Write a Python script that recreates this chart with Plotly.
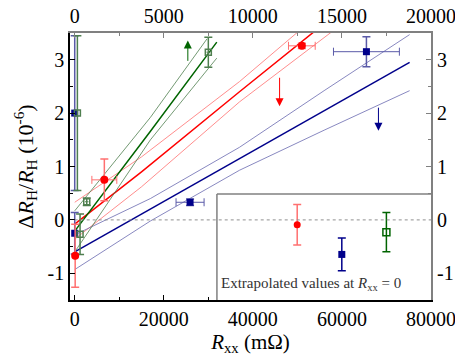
import plotly.graph_objects as go

# measured points (x in mOhm, y in 1e-6)
red_x = [100, 6650, 51000]
red_y = [-0.67, 0.75, 3.26]
red_ex = [0, 2800, 3000]
red_ey = [0.59, 0.39, 0.05]

blue_x = [0, 0, 25900, 65500]
blue_y = [2.0, -0.25, 0.33, 3.15]
blue_ex = [0, 0, 3150, 7400]
blue_ey = [1.45, 0.39, 0.06, 0.28]

green_x = [600, 1200, 2700, 30000]
green_y = [2.0, -0.27, 0.34, 3.14]
green_ex = [0, 0, 400, 400]
green_ey = [1.45, 0.38, 0.07, 0.28]

# fitted lines with confidence bands
red_fit_x = [0, 15000, 37000, 58000]
red_fit_y = [-0.08, 0.90, 2.40, 3.81]
red_up_y = [0.33, 1.18, 2.59, 4.08]
red_lo_y = [-0.36, 0.62, 2.21, 3.54]

blue_fit_x = [0, 17000, 37000, 56000, 75200]
blue_fit_y = [-0.60, 0.20, 1.15, 2.05, 2.95]
blue_up_y = [-0.28, 0.40, 1.36, 2.42, 3.47]
blue_lo_y = [-0.93, -0.02, 0.93, 1.68, 2.42]

green_fit_x = [0, 17000, 31900]
green_fit_y = [-0.21, 1.66, 3.33]
green_up_x = [0, 17000, 29700]
green_up_y = [0.17, 1.92, 3.39]
green_lo_x = [0, 17000, 31900]
green_lo_y = [-0.60, 1.50, 3.03]

# extrapolated intercepts (inset)
ins_x = [1, 2, 3]
ins_y = [-0.08, -0.64, -0.22]
ins_ey = [0.38, 0.31, 0.37]

bottom_ticks = [0, 20000, 40000, 60000, 80000]
top_ticks = [0, 5000, 10000, 15000, 20000]
yvals = [-1, 0, 1, 2, 3]

RED = '#ff0000'
RED_L = '#ff7070'
BLUE = '#00008b'
BLUE_L = '#6a6ab0'
GREEN = '#006400'
GREEN_L = '#4f7f4f'
FONT = 'Liberation Serif, Times New Roman, Times, serif'

fig = go.Figure()

def line(x, y, color, w):
    fig.add_trace(go.Scatter(x=x, y=y, mode='lines', line=dict(color=color, width=w),
                             showlegend=False, hoverinfo='skip'))

line(red_fit_x, red_up_y, RED_L, 0.8)
line(red_fit_x, red_lo_y, RED_L, 0.8)
line(red_fit_x, red_fit_y, RED, 1.5)
line(blue_fit_x, blue_up_y, BLUE_L, 0.8)
line(blue_fit_x, blue_lo_y, BLUE_L, 0.8)
line(blue_fit_x, blue_fit_y, BLUE, 1.5)
line(green_up_x, green_up_y, GREEN_L, 0.8)
line(green_lo_x, green_lo_y, GREEN_L, 0.8)
line(green_fit_x, green_fit_y, GREEN, 1.5)

fig.add_trace(go.Scatter(
    x=blue_x, y=blue_y, mode='markers',
    marker=dict(symbol='square', size=7, color=BLUE, line=dict(width=0)),
    error_y=dict(type='data', array=blue_ey, color='#5a5aa8', thickness=1.5, width=4),
    error_x=dict(type='data', array=blue_ex, color='#5a5aa8', thickness=1, width=4),
    showlegend=False))
fig.add_trace(go.Scatter(
    x=green_x, y=green_y, mode='markers',
    marker=dict(symbol='square-open', size=6, color=GREEN_L, line=dict(width=1.5)),
    error_y=dict(type='data', array=green_ey, color=GREEN_L, thickness=1.5, width=4),
    error_x=dict(type='data', array=green_ex, color=GREEN_L, thickness=1, width=0),
    showlegend=False))
fig.add_trace(go.Scatter(
    x=red_x, y=red_y, mode='markers',
    marker=dict(symbol='circle', size=8, color=RED, line=dict(width=0)),
    error_y=dict(type='data', array=red_ey, color=RED_L, thickness=1.5, width=4),
    error_x=dict(type='data', array=red_ex, color=RED_L, thickness=1, width=4),
    showlegend=False))

# inset points
ins_sym = ['circle', 'square', 'square-open']
ins_col = [RED, BLUE, GREEN]
ins_bar = [RED_L, BLUE, GREEN]
ins_lw = [0, 0, 1.5]
for i in range(3):
    fig.add_trace(go.Scatter(
        x=[ins_x[i]], y=[ins_y[i]], mode='markers', xaxis='x3', yaxis='y3',
        marker=dict(symbol=ins_sym[i], size=7, color=ins_col[i],
                    line=dict(width=ins_lw[i], color=ins_col[i])),
        error_y=dict(type='data', array=[ins_ey[i]], color=ins_bar[i], thickness=1.5, width=4),
        showlegend=False))

tick_font = dict(family=FONT, size=20, color='black')

def ax_style(color, lw):
    return dict(ticks='inside', ticklen=5, tickcolor=color, tickfont=tick_font,
                showline=True, linecolor=color, linewidth=lw, showgrid=False,
                zeroline=False, automargin=False)

# the page body adds an 8px offset, so the figure is sized 8px smaller
fig.update_layout(
    template='none',
    width=455, height=351,
    margin=dict(l=62, r=32, t=25, b=59),
    plot_bgcolor='white', paper_bgcolor='white',
    font=dict(family=FONT, size=20, color='black'),
    xaxis=dict(range=[-1060, 80000], tickvals=bottom_ticks, ticktext=[str(v) for v in bottom_ticks],
               minor=dict(dtick=10000, ticks='inside', ticklen=3, tickcolor='black'),
               title=dict(text='<i>R</i><sub>xx</sub> (mΩ)', font=dict(family=FONT, size=21), standoff=0),
               **ax_style('black', 1.5)),
    xaxis2=dict(range=[-265, 20000], overlaying='x', side='top', tickvals=top_ticks,
                ticktext=[str(v) for v in top_ticks],
                minor=dict(dtick=2500, ticks='inside', ticklen=3, tickcolor='#808080'),
                **ax_style('#808080', 2)),
    yaxis=dict(range=[-1.5, 3.5], tickvals=yvals, ticktext=[str(v) for v in yvals],
               minor=dict(dtick=0.5, ticks='inside', ticklen=3, tickcolor='black'),
               title=dict(text='Δ<i>R</i><sub>H</sub>/<i>R</i><sub>H</sub> (10<sup>-6</sup>)',
                          font=dict(family=FONT, size=22), standoff=8),
               **ax_style('black', 1.5)),
    yaxis2=dict(range=[-1.5, 3.5], overlaying='y', side='right', tickvals=yvals,
                ticktext=[str(v) for v in yvals],
                minor=dict(dtick=0.5, ticks='inside', ticklen=3, tickcolor='#808080'),
                **ax_style('#808080', 2)),
    xaxis3=dict(domain=[0.407, 1], anchor='y3', range=[-0.8, 4.0], visible=False),
    yaxis3=dict(domain=[0, 0.397], anchor='x3', range=[-1.5, 0.5], visible=False),
)

# invisible trace to bind the top/right axes
fig.add_trace(go.Scatter(x=[0], y=[0], xaxis='x2', yaxis='y2', mode='markers',
                         marker=dict(opacity=0), showlegend=False, hoverinfo='skip'))

# zero reference line
fig.add_shape(type='line', xref='x', yref='y', x0=0, x1=80000, y0=0, y1=0,
              line=dict(color='#909090', width=1, dash='dot'))
# inset frame (left and top edges)
fig.add_shape(type='line', xref='paper', yref='paper', x0=0.407, x1=0.407, y0=0, y1=0.397,
              line=dict(color='#808080', width=1.5))
fig.add_shape(type='line', xref='paper', yref='paper', x0=0.407, x1=1, y0=0.397, y1=0.397,
              line=dict(color='#808080', width=1.5))

fig.add_annotation(xref='x3', yref='paper', x=1.3, y=0.02, yanchor='bottom',
                   text='Extrapolated values at <i>R</i><sub>xx</sub> = 0', showarrow=False,
                   font=dict(family=FONT, size=15, color='#333333'))

# arrows
for ax_, y0_, y1_, col in [(46000, 2.69, 2.13, RED), (68200, 2.13, 1.67, BLUE), (25400, 2.95, 3.36, GREEN)]:
    fig.add_annotation(x=ax_, y=y1_, ax=ax_, ay=y0_, xref='x', yref='y', axref='x', ayref='y',
                       showarrow=True, arrowhead=2, arrowsize=1.6, arrowwidth=1, arrowcolor=col, text='')

fig.write_html("out.html")
